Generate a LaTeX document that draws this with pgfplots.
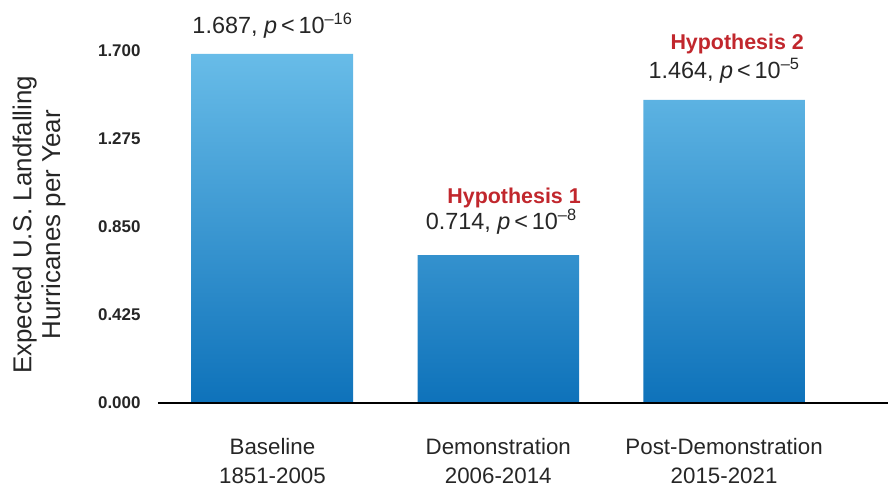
\documentclass[border=0pt]{standalone}
\usepackage{fontspec}
\setmainfont{Liberation Sans}
\usepackage{pgfplots}
\pgfplotsset{compat=1.18}
\definecolor{bartop}{RGB}{104,188,232}
\definecolor{barbot}{RGB}{14,114,186}
\definecolor{hyp}{RGB}{193,39,45}
\begin{document}
\begin{tikzpicture}
\useasboundingbox (-158bp,-88bp) rectangle (730bp,403bp);
\begin{axis}[
  at={(0,0)}, anchor=south west,
  scale only axis, width=730bp, height=393.3bp,
  xmin=-0.507, xmax=2.726, ymin=0, ymax=1.9,
  clip=false,
  axis line style={draw=none},
  tick style={draw=none},
  major tick length=0pt,
  xtick={0,1,2},
  xticklabels={{Baseline\\1851-2005},{Demonstration\\2006-2014},{Post-Demonstration\\2015-2021}},
  xticklabel style={align=center, font=\fontsize{22.4}{29}\selectfont, yshift=-32bp, text=black!85},
  ytick={0,0.425,0.85,1.275,1.7},
  yticklabels={0.000,0.425,0.850,1.275,1.700},
  yticklabel style={font=\bfseries\fontsize{17}{17}\selectfont, xshift=-14bp, text=black!85},
  ylabel={Expected U.S. Landfalling\\Hurricanes per Year},
  ylabel style={at={(axis description cs:-0.163,0.453)}, anchor=center, align=center,
    font=\fontsize{26}{29}\selectfont, text=black!85},
]
\addplot[ybar, bar width=161.5bp, draw=none, top color=bartop, bottom color=barbot]
  coordinates {(0,1.687) (1,0.714) (2,1.464)};
\draw[line width=1.6bp, black] (rel axis cs:0,0) -- (rel axis cs:1,0);
\node[anchor=base, font=\fontsize{23.5}{23.5}\selectfont, text=black!85] at (axis cs:0,1.787)
  {1.687, \textit{p}\,<\,10\textsuperscript{\textendash16}};
\node[anchor=base, font=\bfseries\fontsize{21.5}{21.5}\selectfont, text=hyp] at (axis cs:1.07,0.963)
  {Hypothesis 1};
\node[anchor=base, font=\fontsize{23.5}{23.5}\selectfont, text=black!85] at (axis cs:1.013,0.838)
  {0.714, \textit{p}\,<\,10\textsuperscript{\textendash8}};
\node[anchor=base, font=\bfseries\fontsize{21.5}{21.5}\selectfont, text=hyp] at (axis cs:2.058,1.710)
  {Hypothesis 2};
\node[anchor=base, font=\fontsize{23.5}{23.5}\selectfont, text=black!85] at (axis cs:2.0,1.570)
  {1.464, \textit{p}\,<\,10\textsuperscript{\textendash5}};
\end{axis}
\end{tikzpicture}
\end{document}
